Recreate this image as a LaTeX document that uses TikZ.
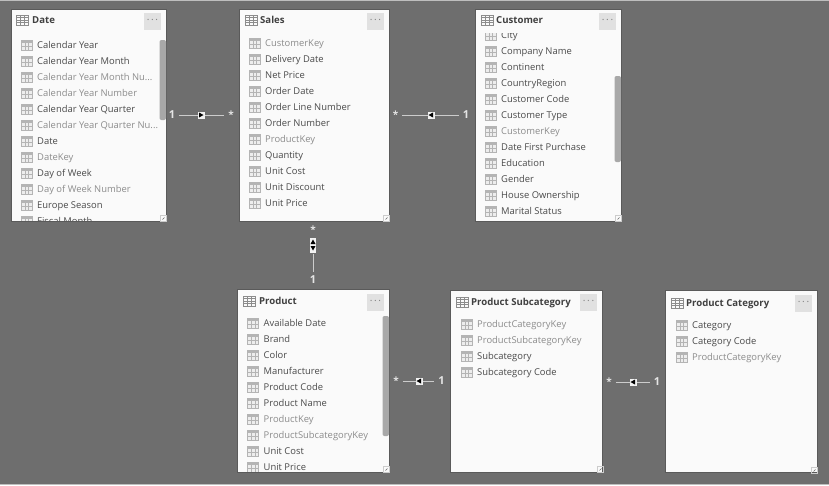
\documentclass[tikz,border=0pt]{standalone}
\usepackage{fontspec}
\setmainfont{Open Sans}
\usepackage{xcolor}
\definecolor{canvasgray}{HTML}{6E6E6E}
\definecolor{boxedge}{HTML}{5A5A5A}
\definecolor{fielddark}{HTML}{4A4A4A}
\definecolor{fieldlight}{HTML}{8C8C8C}
\definecolor{iconedge}{HTML}{B4B4B4}
\definecolor{scrollgray}{HTML}{A8A8A8}
\definecolor{menugray}{HTML}{E1E1E1}
\tikzset{
  tablebox/.style={draw=boxedge, line width=0.5, fill=white!98!black, inner sep=0, rectangle},
  tabletitle/.style={anchor=west, inner sep=0, text height=8, text depth=2, font=\fontsize{9.6}{11}\selectfont\bfseries, text=black!75},
  fieldon/.style={anchor=west, inner sep=0, text height=8, text depth=2, font=\fontsize{9.4}{11}\selectfont, text=fielddark},
  fieldoff/.style={fieldon, text=fieldlight},
  menubtn/.style={fill=menugray, minimum size=17, inner sep=0, font=\fontsize{10}{10}\selectfont, text=black!50},
  cardlabel/.style={inner sep=2.5, font=\fontsize{11}{11}\selectfont\bfseries, text=white!90!black},
  starlabel/.style={cardlabel, font=\fontsize{10}{11}\selectfont\bfseries},
  relline/.style={draw=white!80!black, line width=1, shorten >=1.5, shorten <=1.5},
  relmark/.style={fill=white!95!black, inner sep=0, minimum width=7, minimum height=7},
  pics/fieldicon/.style={code={
    \draw[iconedge, fill=white!93!black, line width=0.5] (0,-5) rectangle (11,5);
    \fill[iconedge] (0,-5) rectangle (11,-2.5);
    \draw[iconedge, line width=0.4] (0,1) -- (11,1) (3.7,-2.5) -- (3.7,5) (7.4,-2.5) -- (7.4,5);
  }},
  pics/titleicon/.style={code={
    \draw[black!45, line width=0.6] (0,-5) rectangle (12,5);
    \draw[black!45, line width=0.3] (0,-2.5) -- (12,-2.5) (0,0) -- (12,0) (0,2.5) -- (12,2.5)
      (4,-5) -- (4,5) (8,-5) -- (8,5);
  }},
  pics/grip/.style={code={
    \draw[black!20, line width=0.4] (0,0) rectangle (6,-6);
    \draw[black!60, line width=0.6] (2.5,-1.5) -- (4.5,-3.5);
  }},
}
\newcommand{\more}{...}
\newcommand{\manystar}{\raisebox{-2pt}{*}}
% one row per field: name, icon x, first y, list
\newcommand{\fieldrows}[4]{
  \foreach \fieldtxt/\fieldsty [count=\i from 0] in {#4} {
    \pic at (#2, #3+16*\i) {fieldicon};
    \node[\fieldsty] (#1-\i) at (#2+16, #3+16*\i) {\fieldtxt};
  }
}
\begin{document}
\begin{tikzpicture}[x=1pt, y=-1pt]
\useasboundingbox (0,0) rectangle (829,485);
\fill[canvasgray] (0,0) rectangle (829,485);
\fill[white!55!canvasgray] (0,0) rectangle (829,1);
\fill[white!55!canvasgray] (0,484) rectangle (829,485);

% tables
\node[tablebox, minimum width=155, minimum height=212] (date) at (88.5,115) {};
\node[tablebox, minimum width=150, minimum height=212] (sales) at (314,115) {};
\node[tablebox, minimum width=146, minimum height=212] (customer) at (548,115) {};
\node[tablebox, minimum width=152, minimum height=183] (product) at (313.3,380.5) {};
\node[tablebox, minimum width=152, minimum height=182] (subcat) at (526.7,381) {};
\node[tablebox, minimum width=152, minimum height=182] (category) at (741.3,381.5) {};

% titles
\pic at (16,20) {titleicon};
\node[tabletitle] (dateT) at (32,20.5) {Date};
\pic at (245,20) {titleicon};
\node[tabletitle] (salesT) at (260,20.5) {Sales};
\pic at (481,20) {titleicon};
\node[tabletitle] (customerT) at (496,20.5) {Customer};
\pic at (243,301) {titleicon};
\node[tabletitle] (productT) at (259,301.5) {Product};
\pic at (456,302) {titleicon};
\node[tabletitle] (subcatT) at (471,302.5) {Product Subcategory};
\pic at (671,303) {titleicon};
\node[tabletitle] (categoryT) at (686,303.5) {Product Category};

\node[menubtn] (dateM) at (152.5,21.5) {·\,·\,·};
\node[menubtn] (salesM) at (375.5,21.5) {·\,·\,·};
\node[menubtn] (customerM) at (607.5,21.5) {·\,·\,·};
\node[menubtn] (productM) at (375.5,302.5) {·\,·\,·};
\node[menubtn] (subcatM) at (588.5,302.5) {·\,·\,·};
\node[menubtn] (categoryM) at (803.5,303.5) {·\,·\,·};

% fields, cut at the table edge
\begin{scope}
\clip (11,32) rectangle (166,220.5);
\fieldrows{date}{21}{45}{Calendar Year/fieldon, Calendar Year Month/fieldon, Calendar Year Month Nu\more/fieldoff,
  Calendar Year Number/fieldoff, Calendar Year Quarter/fieldon, Calendar Year Quarter Nu\more/fieldoff, Date/fieldon,
  DateKey/fieldoff, Day of Week/fieldon, Day of Week Number/fieldoff, Europe Season/fieldon, Fiscal Month/fieldon}
\end{scope}
\fieldrows{sales}{249}{43}{CustomerKey/fieldoff, Delivery Date/fieldon, Net Price/fieldon, Order Date/fieldon,
  Order Line Number/fieldon, Order Number/fieldon, ProductKey/fieldoff, Quantity/fieldon, Unit Cost/fieldon,
  Unit Discount/fieldon, Unit Price/fieldon}
\begin{scope}
\clip (475,33.5) rectangle (621,220.5);
\fieldrows{customer}{485}{35}{City/fieldon, Company Name/fieldon, Continent/fieldon, CountryRegion/fieldon,
  Customer Code/fieldon, Customer Type/fieldon, CustomerKey/fieldoff, Date First Purchase/fieldon, Education/fieldon,
  Gender/fieldon, House Ownership/fieldon, Marital Status/fieldon}
\end{scope}
\begin{scope}
\clip (238,312) rectangle (389,471.5);
\fieldrows{product}{247.5}{323}{Available Date/fieldon, Brand/fieldon, Color/fieldon, Manufacturer/fieldon,
  Product Code/fieldon, Product Name/fieldon, ProductKey/fieldoff, ProductSubcategoryKey/fieldoff, Unit Cost/fieldon,
  Unit Price/fieldon}
\end{scope}
\fieldrows{subcat}{461}{324}{ProductCategoryKey/fieldoff, ProductSubcategoryKey/fieldoff, Subcategory/fieldon,
  Subcategory Code/fieldon}
\fieldrows{category}{676}{325}{Category/fieldon, Category Code/fieldon, ProductCategoryKey/fieldoff}

% scroll bars
\fill[scrollgray, rounded corners=2] (159.5,40) rectangle (166,120);
\fill[scrollgray, rounded corners=2] (614.5,76) rectangle (621,162);
\fill[scrollgray, rounded corners=2] (382.5,316) rectangle (389,436);

% resize grips
\pic at (160,221) {grip};
\pic at (383,221) {grip};
\pic at (615,221) {grip};
\pic at (383,472) {grip};
\pic at (597,472) {grip};
\pic at (811,473) {grip};

% relationships
\node[cardlabel] (oneA) at (172,115) {1};
\node[starlabel] (starA) at (231,115) {\manystar};
\draw[relline] (oneA) -- (starA);
\node[relmark] (markA) at (201,115) {};
\fill (199,112.5) -- (203.5,115) -- (199,117.5) -- cycle;

\node[starlabel] (starB) at (395.5,115) {\manystar};
\node[cardlabel] (oneB) at (466,115) {1};
\draw[relline] (starB) -- (oneB);
\node[relmark] (markB) at (431,115) {};
\fill (433,112.5) -- (428.5,115) -- (433,117.5) -- cycle;

\node[starlabel] (starC) at (313,230) {\manystar};
\node[cardlabel] (oneC) at (313,280) {1};
\node[relmark, minimum width=6, minimum height=15] (markC) at (313,245) {};
\draw[relline] (markC) -- (oneC);
\fill (313,239.5) -- (315.5,244) -- (310.5,244) -- cycle;
\fill (313,250.5) -- (315.5,246) -- (310.5,246) -- cycle;

\node[starlabel] (starD) at (396,381) {\manystar};
\node[cardlabel] (oneD) at (441.5,381) {1};
\draw[relline] (starD) -- (oneD);
\node[relmark] (markD) at (419,381) {};
\fill (421,378.5) -- (416.5,381) -- (421,383.5) -- cycle;

\node[starlabel] (starE) at (609,382) {\manystar};
\node[cardlabel] (oneE) at (657,382) {1};
\draw[relline] (starE) -- (oneE);
\node[relmark] (markE) at (633,382) {};
\fill (635,379.5) -- (630.5,382) -- (635,384.5) -- cycle;
\end{tikzpicture}
\end{document}
